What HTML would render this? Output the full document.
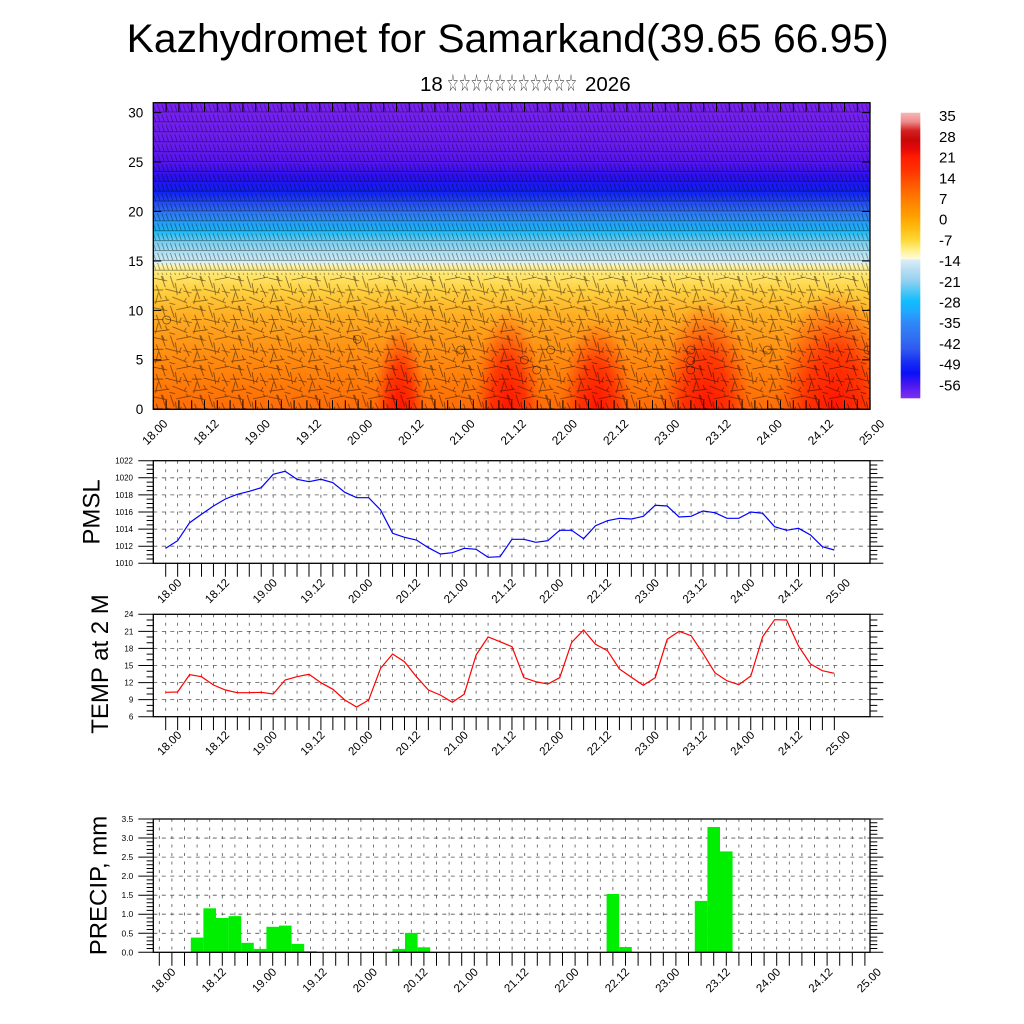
<!DOCTYPE html>
<html><head><meta charset="utf-8"><style>
html,body{margin:0;padding:0;background:#fff;}
svg{display:block;font-family:"Liberation Sans",Arial,sans-serif;}
</style></head><body>
<svg width="1024" height="1024" viewBox="0 0 1024 1024" xmlns="http://www.w3.org/2000/svg">
<defs>
<linearGradient id="field" gradientUnits="userSpaceOnUse" x1="0" y1="102.7" x2="0" y2="409.3">
<stop offset="0" stop-color="#7a22f0"/>
<stop offset="0.129" stop-color="#6a1cf0"/>
<stop offset="0.194" stop-color="#5514f0"/>
<stop offset="0.242" stop-color="#2a10f0"/>
<stop offset="0.29" stop-color="#1020f4"/>
<stop offset="0.323" stop-color="#2048f0"/>
<stop offset="0.355" stop-color="#3070f0"/>
<stop offset="0.387" stop-color="#2898f4"/>
<stop offset="0.419" stop-color="#18b8f8"/>
<stop offset="0.452" stop-color="#70cef0"/>
<stop offset="0.484" stop-color="#a8dcf0"/>
<stop offset="0.516" stop-color="#d0ecf6"/>
<stop offset="0.526" stop-color="#def2f8"/>
<stop offset="0.529" stop-color="#fff4a8"/>
<stop offset="0.565" stop-color="#ffe468"/>
<stop offset="0.613" stop-color="#ffd040"/>
<stop offset="0.677" stop-color="#ffb428"/>
<stop offset="0.742" stop-color="#ffa01c"/>
<stop offset="0.839" stop-color="#ff8a10"/>
<stop offset="0.935" stop-color="#ff7808"/>
<stop offset="1" stop-color="#ff6c08"/>
</linearGradient>
<linearGradient id="cbar" x1="0" y1="0" x2="0" y2="1">
<stop offset="0" stop-color="#f6b8b8"/>
<stop offset="0.032" stop-color="#ee8a8a"/>
<stop offset="0.063" stop-color="#d42020"/>
<stop offset="0.094" stop-color="#c80808"/>
<stop offset="0.125" stop-color="#e40808"/>
<stop offset="0.156" stop-color="#ff1c00"/>
<stop offset="0.198" stop-color="#ff3000"/>
<stop offset="0.239" stop-color="#ff5000"/>
<stop offset="0.281" stop-color="#ff6e00"/>
<stop offset="0.322" stop-color="#ff8800"/>
<stop offset="0.363" stop-color="#ffa000"/>
<stop offset="0.405" stop-color="#ffbc10"/>
<stop offset="0.446" stop-color="#ffd838"/>
<stop offset="0.477" stop-color="#ffee80"/>
<stop offset="0.512" stop-color="#fffce0"/>
<stop offset="0.514" stop-color="#dceef8"/>
<stop offset="0.55" stop-color="#b8def2"/>
<stop offset="0.591" stop-color="#90d0f0"/>
<stop offset="0.632" stop-color="#40c4f6"/>
<stop offset="0.663" stop-color="#10bcff"/>
<stop offset="0.695" stop-color="#20a8ff"/>
<stop offset="0.736" stop-color="#3088f8"/>
<stop offset="0.788" stop-color="#3070f0"/>
<stop offset="0.829" stop-color="#3058f0"/>
<stop offset="0.87" stop-color="#1830f4"/>
<stop offset="0.912" stop-color="#0a10f8"/>
<stop offset="0.953" stop-color="#4818f0"/>
<stop offset="1" stop-color="#8030f0"/>
</linearGradient>
<radialGradient id="hot">
<stop offset="0" stop-color="#ff1000" stop-opacity="0.95"/>
<stop offset="0.5" stop-color="#ff2000" stop-opacity="0.75"/>
<stop offset="1" stop-color="#ff4000" stop-opacity="0"/>
</radialGradient>
<pattern id="pa" patternUnits="userSpaceOnUse" x="153.3" y="102.7" width="12.8" height="9.89">
<path d="M0 9.3H12.8M2.5 9.3L0 2M6.8 9.3L4.3 2M11.1 9.3L8.6 2" stroke="#000" stroke-width="0.7" stroke-opacity="0.5" fill="none"/>
</pattern>
<pattern id="pb" patternUnits="userSpaceOnUse" x="153.3" y="275" width="38.4" height="29.7">
<path d="M0 3L14 6M11 6L9 1M17 1L21 13M23 5L38 2M35 3L33 0M3 10L8 24M12 14L28 18M26 18L28 13M30 9L36 22M1 27L16 25M14 25L12 21M19 22L34 28M31 27L33 23M22 8L24 20M30 16L38.4 18M5 18L2 29M0 15H10M16 28L22 29.7M8 1L12 12" stroke="#000" stroke-width="0.7" stroke-opacity="0.6" fill="none"/>
</pattern>
<clipPath id="tc"><rect x="153.3" y="102.7" width="716.7" height="306.6"/></clipPath>
</defs>

<!-- Title -->
<text x="126.7" y="52" font-size="39.5" textLength="762" lengthAdjust="spacingAndGlyphs">Kazhydromet for Samarkand(39.65 66.95)</text>
<text x="420" y="91" font-size="20.5">18</text>
<text x="447" y="91" font-size="24" font-family="DejaVu Sans,sans-serif" fill="#333" textLength="130" lengthAdjust="spacingAndGlyphs">☆☆☆☆☆☆☆☆☆☆☆</text>
<text x="585" y="91" font-size="20.5">2026</text>

<!-- Top panel -->
<g clip-path="url(#tc)">
<rect x="153.3" y="102.7" width="716.7" height="306.6" fill="url(#field)"/>
<ellipse cx="400" cy="409" rx="26" ry="85" fill="url(#hot)"/>
<ellipse cx="508" cy="409" rx="34" ry="100" fill="url(#hot)"/>
<ellipse cx="597" cy="409" rx="36" ry="90" fill="url(#hot)"/>
<ellipse cx="706" cy="409" rx="46" ry="110" fill="url(#hot)"/>
<ellipse cx="835" cy="409" rx="60" ry="120" fill="url(#hot)"/>
<rect x="153.3" y="102.7" width="716.7" height="172.3" fill="url(#pa)"/>
<rect x="153.3" y="275" width="716.7" height="134.3" fill="url(#pb)"/>
<g fill="none" stroke="#000" stroke-width="0.7" stroke-opacity="0.6">
<circle cx="166.7" cy="320" r="4"/><circle cx="357.3" cy="339.3" r="4"/>
<circle cx="460.7" cy="350" r="4"/><circle cx="524.3" cy="360" r="4"/>
<circle cx="536.7" cy="370" r="4"/><circle cx="550.7" cy="350" r="4"/>
<circle cx="690.7" cy="350" r="4"/><circle cx="690.7" cy="360.7" r="4"/>
<circle cx="690.7" cy="370" r="4"/><circle cx="767.3" cy="350" r="4"/>
<circle cx="868" cy="350" r="4"/>
</g>
</g>
<rect x="153.3" y="102.7" width="716.7" height="306.6" fill="none" stroke="#000" stroke-width="1.3"/>
<path fill="none" stroke="#000" stroke-width="1" d="M153.3 409.3v-9
m12.8 9v-9m12.8 9v-9m12.8 9v-9m12.8 9v-9m12.8 9v-9m12.8 9v-9m12.8 9v-9m12.8 9v-9
m12.8 9v-9m12.8 9v-9m12.8 9v-9m12.8 9v-9m12.8 9v-9m12.8 9v-9m12.8 9v-9m12.8 9v-9
m12.8 9v-9m12.8 9v-9m12.8 9v-9m12.8 9v-9m12.8 9v-9m12.8 9v-9m12.8 9v-9m12.8 9v-9
m12.8 9v-9m12.8 9v-9m12.8 9v-9m12.8 9v-9m12.8 9v-9m12.8 9v-9m12.8 9v-9m12.8 9v-9
m12.8 9v-9m12.8 9v-9m12.8 9v-9m12.8 9v-9m12.8 9v-9m12.8 9v-9m12.8 9v-9m12.8 9v-9
m12.8 9v-9m12.8 9v-9m12.8 9v-9m12.8 9v-9m12.8 9v-9m12.8 9v-9m12.8 9v-9m12.8 9v-9
m12.8 9v-9m12.8 9v-9m12.8 9v-9m12.8 9v-9m12.8 9v-9m12.8 9v-9m12.8 9v-9m12.8 9v-9
M153.3 102.7v9
m12.8 -9v9m12.8 -9v9m12.8 -9v9m12.8 -9v9m12.8 -9v9m12.8 -9v9m12.8 -9v9m12.8 -9v9
m12.8 -9v9m12.8 -9v9m12.8 -9v9m12.8 -9v9m12.8 -9v9m12.8 -9v9m12.8 -9v9m12.8 -9v9
m12.8 -9v9m12.8 -9v9m12.8 -9v9m12.8 -9v9m12.8 -9v9m12.8 -9v9m12.8 -9v9m12.8 -9v9
m12.8 -9v9m12.8 -9v9m12.8 -9v9m12.8 -9v9m12.8 -9v9m12.8 -9v9m12.8 -9v9m12.8 -9v9
m12.8 -9v9m12.8 -9v9m12.8 -9v9m12.8 -9v9m12.8 -9v9m12.8 -9v9m12.8 -9v9m12.8 -9v9
m12.8 -9v9m12.8 -9v9m12.8 -9v9m12.8 -9v9m12.8 -9v9m12.8 -9v9m12.8 -9v9m12.8 -9v9
m12.8 -9v9m12.8 -9v9m12.8 -9v9m12.8 -9v9m12.8 -9v9m12.8 -9v9m12.8 -9v9m12.8 -9v9
M153.3 409.3h8m-8 -49.45h8m-8 -49.45h8m-8 -49.45h8m-8 -49.45h8m-8 -49.45h8m-8 -49.45h8
M870 409.3h-8m8 -49.45h-8m8 -49.45h-8m8 -49.45h-8m8 -49.45h-8m8 -49.45h-8m8 -49.45h-8"/>
<g font-size="13.5" text-anchor="end">
<text x="143.3" y="414.2">0</text>
<text x="143.3" y="364.7">5</text>
<text x="143.3" y="315.3">10</text>
<text x="143.3" y="265.9">15</text>
<text x="143.3" y="216.4">20</text>
<text x="143.3" y="167">25</text>
<text x="143.3" y="117.5">30</text>
</g>
<g font-size="12" text-anchor="middle">
<text transform="translate(154.8,432) rotate(-45)" dy="0.35em">18.00</text>
<text transform="translate(206,432) rotate(-45)" dy="0.35em">18.12</text>
<text transform="translate(257.2,432) rotate(-45)" dy="0.35em">19.00</text>
<text transform="translate(308.4,432) rotate(-45)" dy="0.35em">19.12</text>
<text transform="translate(359.6,432) rotate(-45)" dy="0.35em">20.00</text>
<text transform="translate(410.8,432) rotate(-45)" dy="0.35em">20.12</text>
<text transform="translate(462,432) rotate(-45)" dy="0.35em">21.00</text>
<text transform="translate(513.2,432) rotate(-45)" dy="0.35em">21.12</text>
<text transform="translate(564.4,432) rotate(-45)" dy="0.35em">22.00</text>
<text transform="translate(615.6,432) rotate(-45)" dy="0.35em">22.12</text>
<text transform="translate(666.8,432) rotate(-45)" dy="0.35em">23.00</text>
<text transform="translate(718,432) rotate(-45)" dy="0.35em">23.12</text>
<text transform="translate(769.2,432) rotate(-45)" dy="0.35em">24.00</text>
<text transform="translate(820.4,432) rotate(-45)" dy="0.35em">24.12</text>
<text transform="translate(871.6,432) rotate(-45)" dy="0.35em">25.00</text>
</g>

<!-- Colorbar -->
<rect x="900.7" y="112.7" width="19.6" height="285.6" fill="url(#cbar)"/>
<g font-size="15">
<text x="939" y="121.2">35</text>
<text x="939" y="141.9">28</text>
<text x="939" y="162.6">21</text>
<text x="939" y="183.3">14</text>
<text x="939" y="204">7</text>
<text x="939" y="224.7">0</text>
<text x="939" y="245.4">-7</text>
<text x="939" y="266.1">-14</text>
<text x="939" y="286.8">-21</text>
<text x="939" y="307.5">-28</text>
<text x="939" y="328.2">-35</text>
<text x="939" y="348.9">-42</text>
<text x="939" y="369.6">-49</text>
<text x="939" y="390.3">-56</text>
</g>

<!-- PMSL panel -->
<g fill="none" stroke="#555" stroke-width="0.8">
<path stroke-dasharray="3 5.5" d="M165.7 460.7v102.6
m11.94 -102.6v102.6m11.94 -102.6v102.6m11.94 -102.6v102.6m11.94 -102.6v102.6m11.94 -102.6v102.6m11.94 -102.6v102.6m11.94 -102.6v102.6m11.94 -102.6v102.6
m11.94 -102.6v102.6m11.94 -102.6v102.6m11.94 -102.6v102.6m11.94 -102.6v102.6m11.94 -102.6v102.6m11.94 -102.6v102.6m11.94 -102.6v102.6m11.94 -102.6v102.6
m11.94 -102.6v102.6m11.94 -102.6v102.6m11.94 -102.6v102.6m11.94 -102.6v102.6m11.94 -102.6v102.6m11.94 -102.6v102.6m11.94 -102.6v102.6m11.94 -102.6v102.6
m11.94 -102.6v102.6m11.94 -102.6v102.6m11.94 -102.6v102.6m11.94 -102.6v102.6m11.94 -102.6v102.6m11.94 -102.6v102.6m11.94 -102.6v102.6m11.94 -102.6v102.6
m11.94 -102.6v102.6m11.94 -102.6v102.6m11.94 -102.6v102.6m11.94 -102.6v102.6m11.94 -102.6v102.6m11.94 -102.6v102.6m11.94 -102.6v102.6m11.94 -102.6v102.6
m11.94 -102.6v102.6m11.94 -102.6v102.6m11.94 -102.6v102.6m11.94 -102.6v102.6m11.94 -102.6v102.6m11.94 -102.6v102.6m11.94 -102.6v102.6m11.94 -102.6v102.6
m11.94 -102.6v102.6m11.94 -102.6v102.6m11.94 -102.6v102.6m11.94 -102.6v102.6m11.94 -102.6v102.6m11.94 -102.6v102.6m11.94 -102.6v102.6m11.94 -102.6v102.6"/>
<path stroke-dasharray="4 4.5" d="M153.3 477.8H870M153.3 494.9H870M153.3 512H870M153.3 529.1H870M153.3 546.2H870"/>
</g>
<polyline fill="none" stroke="#0000ff" stroke-width="1.2" points="165.7,548.3 177.6,540.7 189.6,522.7 201.5,514.3 213.5,506 225.4,499 237.3,494.3 249.3,491.3 261.2,487.7 273.2,474.3 285.1,471.3 297,479.3 309,481.7 320.9,479.3 332.9,482.7 344.8,492.3 356.7,497.7 368.7,497.7 380.6,510 392.6,533.3 404.5,537.3 416.4,540 428.4,547.7 440.3,554 452.3,552.7 464.2,548.3 476.1,549.3 488.1,557.3 500,556.7 512,539.3 523.9,539.3 535.8,542.3 547.8,540.7 559.7,530.3 571.7,530.3 583.6,538.7 595.5,525.7 607.5,520.7 619.4,518.3 631.4,519 643.3,516.3 655.2,505.3 667.2,506 679.1,517 691.1,516.3 703,511 714.9,512.7 726.9,518.3 738.8,518.3 750.8,512 762.7,513.3 774.6,526.7 786.6,530.3 798.5,528.3 810.5,535 822.4,546.7 834.3,550"/>
<rect x="153.3" y="460.7" width="716.7" height="102.6" fill="none" stroke="#000" stroke-width="1.3"/>
<path fill="none" stroke="#000" stroke-width="1" d="M165.7 563.3v13.4
m11.94 -13.4v13.4m11.94 -13.4v13.4m11.94 -13.4v13.4m11.94 -13.4v13.4m11.94 -13.4v13.4m11.94 -13.4v13.4m11.94 -13.4v13.4m11.94 -13.4v13.4
m11.94 -13.4v13.4m11.94 -13.4v13.4m11.94 -13.4v13.4m11.94 -13.4v13.4m11.94 -13.4v13.4m11.94 -13.4v13.4m11.94 -13.4v13.4m11.94 -13.4v13.4
m11.94 -13.4v13.4m11.94 -13.4v13.4m11.94 -13.4v13.4m11.94 -13.4v13.4m11.94 -13.4v13.4m11.94 -13.4v13.4m11.94 -13.4v13.4m11.94 -13.4v13.4
m11.94 -13.4v13.4m11.94 -13.4v13.4m11.94 -13.4v13.4m11.94 -13.4v13.4m11.94 -13.4v13.4m11.94 -13.4v13.4m11.94 -13.4v13.4m11.94 -13.4v13.4
m11.94 -13.4v13.4m11.94 -13.4v13.4m11.94 -13.4v13.4m11.94 -13.4v13.4m11.94 -13.4v13.4m11.94 -13.4v13.4m11.94 -13.4v13.4m11.94 -13.4v13.4
m11.94 -13.4v13.4m11.94 -13.4v13.4m11.94 -13.4v13.4m11.94 -13.4v13.4m11.94 -13.4v13.4m11.94 -13.4v13.4m11.94 -13.4v13.4m11.94 -13.4v13.4
m11.94 -13.4v13.4m11.94 -13.4v13.4m11.94 -13.4v13.4m11.94 -13.4v13.4m11.94 -13.4v13.4m11.94 -13.4v13.4m11.94 -13.4v13.4m11.94 -13.4v13.4
M146.6 563.3h6.7m-6.7 -4.275h6.7m-6.7 -4.275h6.7m-6.7 -4.275h6.7m-6.7 -4.275h6.7m-6.7 -4.275h6.7m-6.7 -4.275h6.7m-6.7 -4.275h6.7m-6.7 -4.275h6.7m-6.7 -4.275h6.7m-6.7 -4.275h6.7m-6.7 -4.275h6.7m-6.7 -4.275h6.7m-6.7 -4.275h6.7m-6.7 -4.275h6.7m-6.7 -4.275h6.7m-6.7 -4.275h6.7m-6.7 -4.275h6.7m-6.7 -4.275h6.7m-6.7 -4.275h6.7m-6.7 -4.275h6.7m-6.7 -4.275h6.7m-6.7 -4.275h6.7m-6.7 -4.275h6.7
M870 563.3h7.3m-7.3 -4.275h7.3m-7.3 -4.275h7.3m-7.3 -4.275h7.3m-7.3 -4.275h7.3m-7.3 -4.275h7.3m-7.3 -4.275h7.3m-7.3 -4.275h7.3m-7.3 -4.275h7.3m-7.3 -4.275h7.3m-7.3 -4.275h7.3m-7.3 -4.275h7.3m-7.3 -4.275h7.3m-7.3 -4.275h7.3m-7.3 -4.275h7.3m-7.3 -4.275h7.3m-7.3 -4.275h7.3m-7.3 -4.275h7.3m-7.3 -4.275h7.3m-7.3 -4.275h7.3m-7.3 -4.275h7.3m-7.3 -4.275h7.3m-7.3 -4.275h7.3m-7.3 -4.275h7.3
M138.3 460.7h15M138.3 477.8h15M138.3 494.9h15M138.3 512h15M138.3 529.1h15M138.3 546.2h15M138.3 563.3h15
M870 460.7h13.3M870 477.8h13.3M870 494.9h13.3M870 512h13.3M870 529.1h13.3M870 546.2h13.3M870 563.3h13.3"/>
<g font-size="8" text-anchor="end">
<text x="133" y="566.2">1010</text>
<text x="133" y="549.1">1012</text>
<text x="133" y="532">1014</text>
<text x="133" y="514.9">1016</text>
<text x="133" y="497.8">1018</text>
<text x="133" y="480.7">1020</text>
<text x="133" y="463.6">1022</text>
</g>
<text transform="translate(99.5,512) rotate(-90)" text-anchor="middle" font-size="24">PMSL</text>
<g font-size="11.5" text-anchor="middle">
<text transform="translate(169.2,590.8) rotate(-45)" dy="0.35em">18.00</text>
<text transform="translate(217,590.8) rotate(-45)" dy="0.35em">18.12</text>
<text transform="translate(264.7,590.8) rotate(-45)" dy="0.35em">19.00</text>
<text transform="translate(312.5,590.8) rotate(-45)" dy="0.35em">19.12</text>
<text transform="translate(360.2,590.8) rotate(-45)" dy="0.35em">20.00</text>
<text transform="translate(408,590.8) rotate(-45)" dy="0.35em">20.12</text>
<text transform="translate(455.8,590.8) rotate(-45)" dy="0.35em">21.00</text>
<text transform="translate(503.5,590.8) rotate(-45)" dy="0.35em">21.12</text>
<text transform="translate(551.3,590.8) rotate(-45)" dy="0.35em">22.00</text>
<text transform="translate(599,590.8) rotate(-45)" dy="0.35em">22.12</text>
<text transform="translate(646.8,590.8) rotate(-45)" dy="0.35em">23.00</text>
<text transform="translate(694.6,590.8) rotate(-45)" dy="0.35em">23.12</text>
<text transform="translate(742.3,590.8) rotate(-45)" dy="0.35em">24.00</text>
<text transform="translate(790.1,590.8) rotate(-45)" dy="0.35em">24.12</text>
<text transform="translate(837.8,590.8) rotate(-45)" dy="0.35em">25.00</text>
</g>

<!-- TEMP panel -->
<g fill="none" stroke="#555" stroke-width="0.8">
<path stroke-dasharray="3 5.5" d="M165.7 614.3v102.4
m11.94 -102.4v102.4m11.94 -102.4v102.4m11.94 -102.4v102.4m11.94 -102.4v102.4m11.94 -102.4v102.4m11.94 -102.4v102.4m11.94 -102.4v102.4m11.94 -102.4v102.4
m11.94 -102.4v102.4m11.94 -102.4v102.4m11.94 -102.4v102.4m11.94 -102.4v102.4m11.94 -102.4v102.4m11.94 -102.4v102.4m11.94 -102.4v102.4m11.94 -102.4v102.4
m11.94 -102.4v102.4m11.94 -102.4v102.4m11.94 -102.4v102.4m11.94 -102.4v102.4m11.94 -102.4v102.4m11.94 -102.4v102.4m11.94 -102.4v102.4m11.94 -102.4v102.4
m11.94 -102.4v102.4m11.94 -102.4v102.4m11.94 -102.4v102.4m11.94 -102.4v102.4m11.94 -102.4v102.4m11.94 -102.4v102.4m11.94 -102.4v102.4m11.94 -102.4v102.4
m11.94 -102.4v102.4m11.94 -102.4v102.4m11.94 -102.4v102.4m11.94 -102.4v102.4m11.94 -102.4v102.4m11.94 -102.4v102.4m11.94 -102.4v102.4m11.94 -102.4v102.4
m11.94 -102.4v102.4m11.94 -102.4v102.4m11.94 -102.4v102.4m11.94 -102.4v102.4m11.94 -102.4v102.4m11.94 -102.4v102.4m11.94 -102.4v102.4m11.94 -102.4v102.4
m11.94 -102.4v102.4m11.94 -102.4v102.4m11.94 -102.4v102.4m11.94 -102.4v102.4m11.94 -102.4v102.4m11.94 -102.4v102.4m11.94 -102.4v102.4m11.94 -102.4v102.4"/>
<path stroke-dasharray="4 4.5" d="M153.3 631.4H870M153.3 648.4H870M153.3 665.5H870M153.3 682.6H870M153.3 699.6H870"/>
</g>
<polyline fill="none" stroke="#ff0000" stroke-width="1.2" points="165.7,692.3 177.6,692 189.6,674.7 201.5,676.7 213.5,685 225.4,690 237.3,692.7 249.3,692.7 261.2,692.3 273.2,694 285.1,680 297,676.7 309,674.3 320.9,682.7 332.9,689.3 344.8,700 356.7,707 368.7,700 380.6,668.3 392.6,654 404.5,661.7 416.4,676.7 428.4,690 440.3,695 452.3,702.3 464.2,694.3 476.1,655 488.1,637 500,641.7 512,646.7 523.9,677.7 535.8,681.7 547.8,684 559.7,677.7 571.7,642.3 583.6,630 595.5,644.3 607.5,650.7 619.4,669 631.4,677.3 643.3,685.3 655.2,677.7 667.2,639.3 679.1,631.3 691.1,635.7 703,653.3 714.9,672.7 726.9,680.7 738.8,684.7 750.8,676 762.7,636.7 774.6,619.7 786.6,620 798.5,646 810.5,664 822.4,670.7 834.3,673.3"/>
<rect x="153.3" y="614.3" width="716.7" height="102.4" fill="none" stroke="#000" stroke-width="1.3"/>
<path fill="none" stroke="#000" stroke-width="1" d="M165.7 716.7v13.4
m11.94 -13.4v13.4m11.94 -13.4v13.4m11.94 -13.4v13.4m11.94 -13.4v13.4m11.94 -13.4v13.4m11.94 -13.4v13.4m11.94 -13.4v13.4m11.94 -13.4v13.4
m11.94 -13.4v13.4m11.94 -13.4v13.4m11.94 -13.4v13.4m11.94 -13.4v13.4m11.94 -13.4v13.4m11.94 -13.4v13.4m11.94 -13.4v13.4m11.94 -13.4v13.4
m11.94 -13.4v13.4m11.94 -13.4v13.4m11.94 -13.4v13.4m11.94 -13.4v13.4m11.94 -13.4v13.4m11.94 -13.4v13.4m11.94 -13.4v13.4m11.94 -13.4v13.4
m11.94 -13.4v13.4m11.94 -13.4v13.4m11.94 -13.4v13.4m11.94 -13.4v13.4m11.94 -13.4v13.4m11.94 -13.4v13.4m11.94 -13.4v13.4m11.94 -13.4v13.4
m11.94 -13.4v13.4m11.94 -13.4v13.4m11.94 -13.4v13.4m11.94 -13.4v13.4m11.94 -13.4v13.4m11.94 -13.4v13.4m11.94 -13.4v13.4m11.94 -13.4v13.4
m11.94 -13.4v13.4m11.94 -13.4v13.4m11.94 -13.4v13.4m11.94 -13.4v13.4m11.94 -13.4v13.4m11.94 -13.4v13.4m11.94 -13.4v13.4m11.94 -13.4v13.4
m11.94 -13.4v13.4m11.94 -13.4v13.4m11.94 -13.4v13.4m11.94 -13.4v13.4m11.94 -13.4v13.4m11.94 -13.4v13.4m11.94 -13.4v13.4m11.94 -13.4v13.4
M146.6 716.7h6.7m-6.7 -5.689h6.7m-6.7 -5.689h6.7m-6.7 -5.689h6.7m-6.7 -5.689h6.7m-6.7 -5.689h6.7m-6.7 -5.689h6.7m-6.7 -5.689h6.7m-6.7 -5.689h6.7m-6.7 -5.689h6.7m-6.7 -5.689h6.7m-6.7 -5.689h6.7m-6.7 -5.689h6.7m-6.7 -5.689h6.7m-6.7 -5.689h6.7m-6.7 -5.689h6.7m-6.7 -5.689h6.7m-6.7 -5.689h6.7m-6.7 -5.689h6.7
M870 716.7h7.3m-7.3 -5.689h7.3m-7.3 -5.689h7.3m-7.3 -5.689h7.3m-7.3 -5.689h7.3m-7.3 -5.689h7.3m-7.3 -5.689h7.3m-7.3 -5.689h7.3m-7.3 -5.689h7.3m-7.3 -5.689h7.3m-7.3 -5.689h7.3m-7.3 -5.689h7.3m-7.3 -5.689h7.3m-7.3 -5.689h7.3m-7.3 -5.689h7.3m-7.3 -5.689h7.3m-7.3 -5.689h7.3m-7.3 -5.689h7.3m-7.3 -5.689h7.3
M138.3 614.3h15M138.3 631.4h15M138.3 648.4h15M138.3 665.5h15M138.3 682.6h15M138.3 699.6h15M138.3 716.7h15
M870 614.3h13.3M870 631.4h13.3M870 648.4h13.3M870 665.5h13.3M870 682.6h13.3M870 699.6h13.3M870 716.7h13.3"/>
<g font-size="8" text-anchor="end">
<text x="133.3" y="719.6">6</text>
<text x="133.3" y="702.5">9</text>
<text x="133.3" y="685.5">12</text>
<text x="133.3" y="668.4">15</text>
<text x="133.3" y="651.3">18</text>
<text x="133.3" y="634.3">21</text>
<text x="133.3" y="617.2">24</text>
</g>
<text transform="translate(108,664) rotate(-90)" text-anchor="middle" font-size="24">TEMP at 2 M</text>
<g font-size="11.5" text-anchor="middle">
<text transform="translate(169.2,743) rotate(-45)" dy="0.35em">18.00</text>
<text transform="translate(217,743) rotate(-45)" dy="0.35em">18.12</text>
<text transform="translate(264.7,743) rotate(-45)" dy="0.35em">19.00</text>
<text transform="translate(312.5,743) rotate(-45)" dy="0.35em">19.12</text>
<text transform="translate(360.2,743) rotate(-45)" dy="0.35em">20.00</text>
<text transform="translate(408,743) rotate(-45)" dy="0.35em">20.12</text>
<text transform="translate(455.8,743) rotate(-45)" dy="0.35em">21.00</text>
<text transform="translate(503.5,743) rotate(-45)" dy="0.35em">21.12</text>
<text transform="translate(551.3,743) rotate(-45)" dy="0.35em">22.00</text>
<text transform="translate(599,743) rotate(-45)" dy="0.35em">22.12</text>
<text transform="translate(646.8,743) rotate(-45)" dy="0.35em">23.00</text>
<text transform="translate(694.6,743) rotate(-45)" dy="0.35em">23.12</text>
<text transform="translate(742.3,743) rotate(-45)" dy="0.35em">24.00</text>
<text transform="translate(790.1,743) rotate(-45)" dy="0.35em">24.12</text>
<text transform="translate(837.8,743) rotate(-45)" dy="0.35em">25.00</text>
</g>

<!-- PRECIP panel -->
<g fill="none" stroke="#555" stroke-width="0.8">
<path stroke-dasharray="3 5.5" d="M159.3 819v133.3
m12.6 -133.3v133.3m12.6 -133.3v133.3m12.6 -133.3v133.3m12.6 -133.3v133.3m12.6 -133.3v133.3m12.6 -133.3v133.3m12.6 -133.3v133.3m12.6 -133.3v133.3
m12.6 -133.3v133.3m12.6 -133.3v133.3m12.6 -133.3v133.3m12.6 -133.3v133.3m12.6 -133.3v133.3m12.6 -133.3v133.3m12.6 -133.3v133.3m12.6 -133.3v133.3
m12.6 -133.3v133.3m12.6 -133.3v133.3m12.6 -133.3v133.3m12.6 -133.3v133.3m12.6 -133.3v133.3m12.6 -133.3v133.3m12.6 -133.3v133.3m12.6 -133.3v133.3
m12.6 -133.3v133.3m12.6 -133.3v133.3m12.6 -133.3v133.3m12.6 -133.3v133.3m12.6 -133.3v133.3m12.6 -133.3v133.3m12.6 -133.3v133.3m12.6 -133.3v133.3
m12.6 -133.3v133.3m12.6 -133.3v133.3m12.6 -133.3v133.3m12.6 -133.3v133.3m12.6 -133.3v133.3m12.6 -133.3v133.3m12.6 -133.3v133.3m12.6 -133.3v133.3
m12.6 -133.3v133.3m12.6 -133.3v133.3m12.6 -133.3v133.3m12.6 -133.3v133.3m12.6 -133.3v133.3m12.6 -133.3v133.3m12.6 -133.3v133.3m12.6 -133.3v133.3
m12.6 -133.3v133.3m12.6 -133.3v133.3m12.6 -133.3v133.3m12.6 -133.3v133.3m12.6 -133.3v133.3m12.6 -133.3v133.3m12.6 -133.3v133.3m12.6 -133.3v133.3"/>
<path stroke-dasharray="4 4.5" d="M153.3 838.05H870M153.3 857.1H870M153.3 876.1H870M153.3 895.2H870M153.3 914.2H870M153.3 933.3H870"/>
</g>
<g fill="#00ee00">
<rect x="190.8" y="937.6" width="12.6" height="14.7"/>
<rect x="203.4" y="908.3" width="12.6" height="44"/>
<rect x="216" y="918" width="12.6" height="34.3"/>
<rect x="228.6" y="916.1" width="12.6" height="36.2"/>
<rect x="241.2" y="942.8" width="12.6" height="9.5"/>
<rect x="253.8" y="948.9" width="12.6" height="3.4"/>
<rect x="266.4" y="926.8" width="12.6" height="25.5"/>
<rect x="279" y="925.6" width="12.6" height="26.7"/>
<rect x="291.6" y="943.9" width="12.6" height="8.4"/>
<rect x="304.2" y="951.2" width="12.6" height="1.1"/>
<rect x="392.4" y="948.9" width="12.6" height="3.4"/>
<rect x="405" y="932.9" width="12.6" height="19.4"/>
<rect x="417.6" y="947.3" width="12.6" height="5"/>
<rect x="606.6" y="894" width="12.6" height="58.3"/>
<rect x="619.2" y="947" width="12.6" height="5.3"/>
<rect x="694.8" y="900.9" width="12.6" height="51.4"/>
<rect x="707.4" y="827" width="12.6" height="125.3"/>
<rect x="720" y="851.4" width="12.6" height="100.9"/>
</g>
<rect x="153.3" y="819" width="716.7" height="133.3" fill="none" stroke="#000" stroke-width="1.3"/>
<path fill="none" stroke="#000" stroke-width="1" d="M159.3 952.3v13.4
m12.6 -13.4v13.4m12.6 -13.4v13.4m12.6 -13.4v13.4m12.6 -13.4v13.4m12.6 -13.4v13.4m12.6 -13.4v13.4m12.6 -13.4v13.4m12.6 -13.4v13.4
m12.6 -13.4v13.4m12.6 -13.4v13.4m12.6 -13.4v13.4m12.6 -13.4v13.4m12.6 -13.4v13.4m12.6 -13.4v13.4m12.6 -13.4v13.4m12.6 -13.4v13.4
m12.6 -13.4v13.4m12.6 -13.4v13.4m12.6 -13.4v13.4m12.6 -13.4v13.4m12.6 -13.4v13.4m12.6 -13.4v13.4m12.6 -13.4v13.4m12.6 -13.4v13.4
m12.6 -13.4v13.4m12.6 -13.4v13.4m12.6 -13.4v13.4m12.6 -13.4v13.4m12.6 -13.4v13.4m12.6 -13.4v13.4m12.6 -13.4v13.4m12.6 -13.4v13.4
m12.6 -13.4v13.4m12.6 -13.4v13.4m12.6 -13.4v13.4m12.6 -13.4v13.4m12.6 -13.4v13.4m12.6 -13.4v13.4m12.6 -13.4v13.4m12.6 -13.4v13.4
m12.6 -13.4v13.4m12.6 -13.4v13.4m12.6 -13.4v13.4m12.6 -13.4v13.4m12.6 -13.4v13.4m12.6 -13.4v13.4m12.6 -13.4v13.4m12.6 -13.4v13.4
m12.6 -13.4v13.4m12.6 -13.4v13.4m12.6 -13.4v13.4m12.6 -13.4v13.4m12.6 -13.4v13.4m12.6 -13.4v13.4m12.6 -13.4v13.4m12.6 -13.4v13.4
M146.6 952.3h6.7m-6.7 -3.809h6.7m-6.7 -3.809h6.7m-6.7 -3.809h6.7m-6.7 -3.809h6.7m-6.7 -3.809h6.7m-6.7 -3.809h6.7m-6.7 -3.809h6.7m-6.7 -3.809h6.7m-6.7 -3.809h6.7m-6.7 -3.809h6.7m-6.7 -3.809h6.7m-6.7 -3.809h6.7m-6.7 -3.809h6.7m-6.7 -3.809h6.7m-6.7 -3.809h6.7m-6.7 -3.809h6.7m-6.7 -3.809h6.7m-6.7 -3.809h6.7m-6.7 -3.809h6.7m-6.7 -3.809h6.7m-6.7 -3.809h6.7m-6.7 -3.809h6.7m-6.7 -3.809h6.7m-6.7 -3.809h6.7m-6.7 -3.809h6.7m-6.7 -3.809h6.7m-6.7 -3.809h6.7m-6.7 -3.809h6.7m-6.7 -3.809h6.7m-6.7 -3.809h6.7m-6.7 -3.809h6.7m-6.7 -3.809h6.7m-6.7 -3.809h6.7m-6.7 -3.809h6.7
M870 952.3h7.3m-7.3 -3.809h7.3m-7.3 -3.809h7.3m-7.3 -3.809h7.3m-7.3 -3.809h7.3m-7.3 -3.809h7.3m-7.3 -3.809h7.3m-7.3 -3.809h7.3m-7.3 -3.809h7.3m-7.3 -3.809h7.3m-7.3 -3.809h7.3m-7.3 -3.809h7.3m-7.3 -3.809h7.3m-7.3 -3.809h7.3m-7.3 -3.809h7.3m-7.3 -3.809h7.3m-7.3 -3.809h7.3m-7.3 -3.809h7.3m-7.3 -3.809h7.3m-7.3 -3.809h7.3m-7.3 -3.809h7.3m-7.3 -3.809h7.3m-7.3 -3.809h7.3m-7.3 -3.809h7.3m-7.3 -3.809h7.3m-7.3 -3.809h7.3m-7.3 -3.809h7.3m-7.3 -3.809h7.3m-7.3 -3.809h7.3m-7.3 -3.809h7.3m-7.3 -3.809h7.3m-7.3 -3.809h7.3m-7.3 -3.809h7.3m-7.3 -3.809h7.3m-7.3 -3.809h7.3
M138.3 819h15M138.3 838.05h15M138.3 857.1h15M138.3 876.1h15M138.3 895.2h15M138.3 914.2h15M138.3 933.3h15M138.3 952.3h15
M870 819h13.3M870 838.05h13.3M870 857.1h13.3M870 876.1h13.3M870 895.2h13.3M870 914.2h13.3M870 933.3h13.3M870 952.3h13.3"/>
<g font-size="8.5" text-anchor="end">
<text x="133.3" y="955.3">0.0</text>
<text x="133.3" y="936.3">0.5</text>
<text x="133.3" y="917.2">1.0</text>
<text x="133.3" y="898.2">1.5</text>
<text x="133.3" y="879.1">2.0</text>
<text x="133.3" y="860.1">2.5</text>
<text x="133.3" y="841">3.0</text>
<text x="133.3" y="822">3.5</text>
</g>
<text transform="translate(106.5,885.5) rotate(-90)" text-anchor="middle" font-size="24">PRECIP, mm</text>
<g font-size="11.5" text-anchor="middle">
<text transform="translate(163.3,980) rotate(-45)" dy="0.35em">18.00</text>
<text transform="translate(213.7,980) rotate(-45)" dy="0.35em">18.12</text>
<text transform="translate(264.1,980) rotate(-45)" dy="0.35em">19.00</text>
<text transform="translate(314.5,980) rotate(-45)" dy="0.35em">19.12</text>
<text transform="translate(364.9,980) rotate(-45)" dy="0.35em">20.00</text>
<text transform="translate(415.3,980) rotate(-45)" dy="0.35em">20.12</text>
<text transform="translate(465.7,980) rotate(-45)" dy="0.35em">21.00</text>
<text transform="translate(516.1,980) rotate(-45)" dy="0.35em">21.12</text>
<text transform="translate(566.5,980) rotate(-45)" dy="0.35em">22.00</text>
<text transform="translate(616.9,980) rotate(-45)" dy="0.35em">22.12</text>
<text transform="translate(667.3,980) rotate(-45)" dy="0.35em">23.00</text>
<text transform="translate(717.7,980) rotate(-45)" dy="0.35em">23.12</text>
<text transform="translate(768.1,980) rotate(-45)" dy="0.35em">24.00</text>
<text transform="translate(820.4,980) rotate(-45)" dy="0.35em">24.12</text>
<text transform="translate(868.9,980) rotate(-45)" dy="0.35em">25.00</text>
</g>
</svg>
</body></html>
